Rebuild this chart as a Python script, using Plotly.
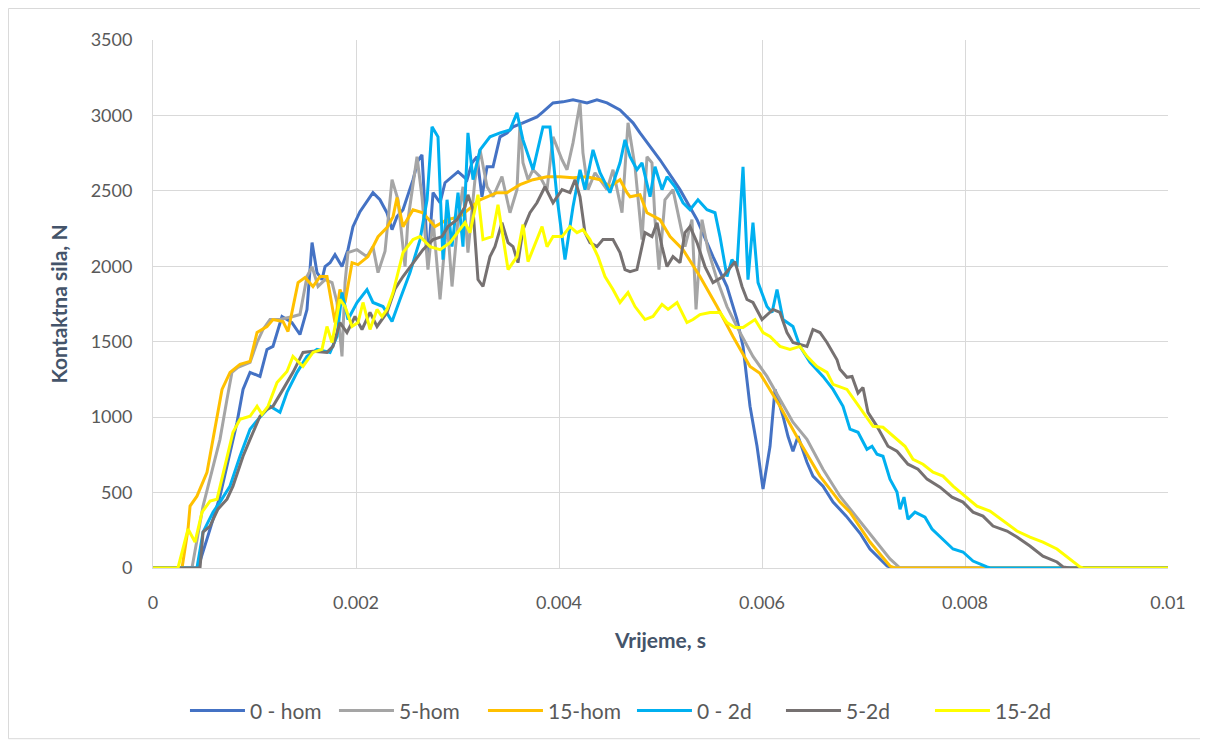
import plotly.graph_objects as go

# time in ms (converted to s below), force in N
t_0hom = [0, 0.443, 0.562, 0.660, 0.828, 0.887, 0.956, 1.054, 1.123, 1.182, 1.271, 1.369, 1.448, 1.517, 1.567, 1.616, 1.665, 1.695, 1.744, 1.793, 1.862, 1.921, 1.970, 2.039, 2.167, 2.236, 2.305, 2.355, 2.404, 2.463, 2.562, 2.611, 2.650, 2.709, 2.759, 2.828, 2.877, 3.005, 3.094, 3.143, 3.192, 3.241, 3.291, 3.350, 3.389, 3.419, 3.488, 3.547, 3.645, 3.783, 3.842, 3.941, 4.039, 4.138, 4.276, 4.374, 4.473, 4.601, 4.729, 4.798, 4.995, 5.192, 5.360, 5.517, 5.655, 5.754, 5.813, 5.882, 5.951, 6.010, 6.079, 6.128, 6.207, 6.256, 6.305, 6.355, 6.443, 6.502, 6.601, 6.700, 6.830, 6.966, 7.064, 7.232, 7.291, 10]
f_0hom = [0, 0, 258, 476, 966, 1184, 1297, 1270, 1449, 1469, 1667, 1627, 1548, 1713, 2157, 1958, 1912, 1998, 2024, 2077, 1998, 2110, 2263, 2362, 2488, 2441, 2355, 2243, 2329, 2375, 2574, 2700, 2739, 2024, 2488, 2421, 2554, 2627, 2574, 2686, 2726, 2461, 2660, 2660, 2772, 2858, 2884, 2924, 2951, 2990, 3023, 3083, 3090, 3103, 3083, 3103, 3083, 3037, 2951, 2884, 2706, 2508, 2309, 2064, 1866, 1647, 1469, 1072, 807, 523, 807, 1184, 1006, 873, 774, 873, 701, 609, 543, 437, 344, 230, 126, 13, 0, 0]

t_5hom = [0, 0.384, 0.493, 0.562, 0.660, 0.729, 0.778, 0.837, 0.956, 1.025, 1.084, 1.153, 1.251, 1.379, 1.448, 1.517, 1.567, 1.626, 1.695, 1.764, 1.813, 1.862, 1.892, 1.921, 2.010, 2.108, 2.167, 2.217, 2.286, 2.355, 2.414, 2.483, 2.512, 2.601, 2.650, 2.709, 2.759, 2.828, 2.897, 2.946, 3.005, 3.054, 3.103, 3.172, 3.222, 3.291, 3.350, 3.438, 3.517, 3.586, 3.616, 3.645, 3.695, 3.744, 3.813, 3.882, 3.941, 4.030, 4.079, 4.138, 4.207, 4.236, 4.286, 4.355, 4.404, 4.473, 4.532, 4.621, 4.680, 4.749, 4.818, 4.867, 4.916, 4.946, 4.985, 5.044, 5.123, 5.172, 5.241, 5.310, 5.350, 5.409, 5.468, 5.557, 5.655, 5.783, 5.911, 6.049, 6.177, 6.305, 6.443, 6.601, 6.768, 6.936, 7.133, 7.261, 7.360, 10]
f_5hom = [0, 0, 410, 589, 853, 1118, 1297, 1330, 1363, 1495, 1581, 1647, 1647, 1667, 1680, 1932, 1998, 1866, 1912, 1892, 1760, 1403, 1892, 2091, 2110, 2064, 2130, 1958, 2100, 2574, 2441, 1998, 2309, 2726, 2461, 1978, 2309, 1780, 2309, 1866, 2309, 2527, 2091, 2574, 2772, 2527, 2461, 2594, 2355, 2508, 2951, 2686, 2574, 2640, 2594, 2508, 2858, 2706, 2640, 2818, 3083, 2752, 2508, 2620, 2574, 2508, 2640, 2355, 2951, 2660, 2177, 2726, 2686, 2309, 1978, 2441, 2508, 2355, 2130, 2309, 1714, 2309, 2110, 1912, 1733, 1561, 1403, 1270, 1118, 966, 853, 655, 476, 334, 172, 60, 0, 0]

t_15hom = [0, 0.286, 0.345, 0.365, 0.433, 0.532, 0.591, 0.680, 0.759, 0.857, 0.956, 1.025, 1.123, 1.182, 1.281, 1.330, 1.429, 1.498, 1.576, 1.645, 1.714, 1.793, 1.842, 1.892, 1.961, 2.020, 2.118, 2.217, 2.305, 2.365, 2.404, 2.463, 2.562, 2.660, 2.778, 2.897, 3.025, 3.222, 3.389, 3.488, 3.616, 3.744, 3.882, 4.010, 4.138, 4.276, 4.404, 4.502, 4.601, 4.670, 4.700, 4.798, 4.867, 4.995, 5.094, 5.222, 5.389, 5.557, 5.714, 5.882, 5.980, 6.177, 6.374, 6.571, 6.768, 6.867, 7.064, 7.261, 7.310, 10]
f_15hom = [0, 0, 258, 410, 476, 635, 853, 1184, 1297, 1350, 1370, 1561, 1600, 1647, 1634, 1568, 1892, 1925, 1866, 1932, 1932, 1627, 1846, 1760, 2024, 2011, 2064, 2196, 2256, 2329, 2455, 2263, 2375, 2355, 2263, 2309, 2329, 2441, 2488, 2488, 2541, 2574, 2594, 2594, 2587, 2594, 2574, 2527, 2574, 2488, 2461, 2474, 2355, 2309, 2197, 2110, 1932, 1733, 1535, 1336, 1290, 1072, 834, 609, 437, 370, 172, 13, 0, 0]

t_02d = [0, 0.433, 0.493, 0.591, 0.660, 0.759, 0.857, 0.956, 1.054, 1.153, 1.251, 1.320, 1.419, 1.517, 1.616, 1.744, 1.813, 1.862, 1.921, 2.010, 2.108, 2.167, 2.266, 2.355, 2.433, 2.532, 2.631, 2.700, 2.749, 2.808, 2.857, 2.897, 2.946, 3.005, 3.054, 3.103, 3.153, 3.222, 3.320, 3.419, 3.517, 3.586, 3.645, 3.744, 3.842, 3.911, 3.980, 4.059, 4.138, 4.207, 4.256, 4.335, 4.404, 4.502, 4.601, 4.650, 4.700, 4.768, 4.818, 4.897, 4.946, 5.015, 5.064, 5.143, 5.222, 5.291, 5.369, 5.458, 5.537, 5.586, 5.655, 5.704, 5.754, 5.813, 5.862, 5.911, 5.961, 6.049, 6.099, 6.148, 6.207, 6.305, 6.374, 6.473, 6.601, 6.700, 6.798, 6.867, 6.946, 7.034, 7.084, 7.133, 7.192, 7.261, 7.330, 7.360, 7.399, 7.438, 7.507, 7.606, 7.675, 7.783, 7.882, 7.980, 8.079, 8.217, 8.246, 10]
f_02d = [0, 0, 238, 370, 437, 543, 741, 920, 1000, 1072, 1032, 1164, 1297, 1403, 1449, 1429, 1535, 1826, 1647, 1760, 1846, 1760, 1733, 1634, 1780, 1958, 2177, 2441, 2924, 2858, 2044, 2441, 2130, 2488, 2130, 2884, 2574, 2772, 2858, 2884, 2904, 3017, 2838, 2640, 2924, 2924, 2461, 2044, 2395, 2640, 2508, 2772, 2620, 2488, 2686, 2838, 2726, 2640, 2686, 2461, 2660, 2508, 2594, 2527, 2421, 2375, 2441, 2375, 2355, 2197, 1932, 2044, 1998, 2660, 1912, 2289, 1892, 1733, 1694, 1846, 1647, 1601, 1469, 1363, 1270, 1184, 1072, 920, 900, 787, 807, 754, 741, 589, 503, 390, 470, 324, 370, 337, 258, 192, 126, 106, 46, 7, 0, 0]

t_52d = [0, 0.463, 0.493, 0.562, 0.640, 0.729, 0.788, 0.887, 0.956, 1.054, 1.123, 1.182, 1.281, 1.379, 1.478, 1.576, 1.714, 1.773, 1.842, 1.911, 1.990, 2.059, 2.138, 2.207, 2.305, 2.384, 2.463, 2.562, 2.660, 2.759, 2.847, 2.906, 2.995, 3.074, 3.103, 3.153, 3.202, 3.251, 3.320, 3.369, 3.438, 3.498, 3.547, 3.596, 3.645, 3.714, 3.783, 3.862, 3.941, 4.030, 4.108, 4.158, 4.207, 4.256, 4.305, 4.374, 4.433, 4.532, 4.601, 4.650, 4.700, 4.768, 4.847, 4.916, 4.966, 5.015, 5.064, 5.123, 5.192, 5.241, 5.291, 5.360, 5.438, 5.517, 5.616, 5.734, 5.803, 5.852, 5.911, 6.000, 6.108, 6.177, 6.246, 6.305, 6.443, 6.502, 6.571, 6.640, 6.739, 6.768, 6.837, 6.887, 6.946, 6.995, 7.044, 7.133, 7.241, 7.330, 7.438, 7.537, 7.626, 7.754, 7.872, 7.980, 8.079, 8.177, 8.276, 8.414, 8.512, 8.640, 8.768, 8.906, 8.966, 9.034, 10]
f_52d = [0, 0, 238, 278, 390, 456, 543, 741, 853, 1006, 1052, 1072, 1184, 1297, 1429, 1436, 1429, 1469, 1627, 1561, 1667, 1581, 1694, 1601, 1694, 1850, 1932, 2024, 2110, 2177, 2197, 2263, 2309, 2395, 2474, 2375, 1912, 1866, 2064, 2130, 2289, 2157, 2130, 2024, 2243, 2355, 2421, 2527, 2421, 2508, 2488, 2574, 2461, 2223, 2157, 2130, 2177, 2177, 2091, 1978, 1965, 1978, 2223, 2197, 2289, 2130, 1998, 2064, 2024, 2223, 2263, 2157, 1998, 1892, 1932, 2031, 1866, 1780, 1760, 1647, 1714, 1694, 1561, 1495, 1469, 1581, 1561, 1495, 1380, 1317, 1264, 1270, 1160, 1197, 1032, 939, 807, 774, 688, 655, 589, 536, 470, 437, 370, 344, 278, 245, 205, 146, 79, 40, 7, 0, 0]

t_152d = [0, 0.246, 0.345, 0.414, 0.483, 0.562, 0.631, 0.729, 0.788, 0.857, 0.956, 1.025, 1.074, 1.133, 1.222, 1.320, 1.379, 1.478, 1.576, 1.665, 1.714, 1.764, 1.842, 1.892, 1.961, 2.020, 2.069, 2.138, 2.207, 2.256, 2.305, 2.365, 2.463, 2.562, 2.631, 2.729, 2.828, 2.926, 3.025, 3.074, 3.123, 3.202, 3.251, 3.340, 3.399, 3.498, 3.586, 3.645, 3.695, 3.783, 3.833, 3.882, 3.941, 4.030, 4.108, 4.177, 4.236, 4.305, 4.384, 4.453, 4.532, 4.601, 4.680, 4.749, 4.847, 4.926, 5.015, 5.074, 5.163, 5.261, 5.320, 5.389, 5.488, 5.586, 5.655, 5.734, 5.813, 5.931, 6.010, 6.079, 6.177, 6.276, 6.374, 6.443, 6.542, 6.640, 6.700, 6.837, 6.995, 7.094, 7.192, 7.291, 7.409, 7.488, 7.586, 7.685, 7.783, 7.882, 7.980, 8.118, 8.246, 8.374, 8.512, 8.640, 8.768, 8.906, 9.034, 9.133, 9.163, 10]
f_152d = [0, 0, 258, 172, 370, 443, 456, 721, 900, 986, 1006, 1072, 1019, 1072, 1230, 1303, 1403, 1336, 1429, 1449, 1601, 1495, 1780, 1733, 1601, 1627, 1760, 1581, 1714, 1667, 1714, 1826, 2091, 2177, 2197, 2130, 2110, 2157, 2243, 2289, 2223, 2474, 2177, 2197, 2408, 1978, 2064, 2276, 2031, 2177, 2263, 2130, 2197, 2197, 2263, 2223, 2243, 2177, 2064, 1932, 1846, 1760, 1826, 1733, 1647, 1667, 1747, 1714, 1760, 1627, 1647, 1680, 1694, 1694, 1627, 1594, 1594, 1647, 1561, 1535, 1469, 1449, 1469, 1403, 1336, 1297, 1217, 1184, 1032, 939, 933, 873, 807, 721, 688, 635, 609, 543, 490, 410, 377, 311, 245, 205, 172, 126, 60, 7, 0, 0]

series_names = ["0 - hom", "5-hom", "15-hom", "0 - 2d", "5-2d", "15-2d"]
series_t = [t_0hom, t_5hom, t_15hom, t_02d, t_52d, t_152d]
series_f = [f_0hom, f_5hom, f_15hom, f_02d, f_52d, f_152d]
colors = ["#4472C4", "#A5A5A5", "#FFC000", "#00B0F0", "#767171", "#FFFF00"]

x_tickvals = [0, 0.002, 0.004, 0.006, 0.008, 0.01]
x_ticktext = ["0", "0.002", "0.004", "0.006", "0.008", "0.01"]

fig = go.Figure()
for name, ts, fs, c in zip(series_names, series_t, series_f, colors):
    fig.add_trace(go.Scatter(
        x=[v / 1000 for v in ts], y=fs, mode="lines", name=name,
        line=dict(color=c, width=3)))

font_family = "Lato, 'Open Sans', sans-serif"
fig.update_layout(
    width=1200, height=734,
    margin=dict(l=145, r=40, t=32, b=173),
    paper_bgcolor="white", plot_bgcolor="white",
    font=dict(family=font_family, size=17, color="#595959"),
    showlegend=True,
    legend=dict(orientation="h", x=0.0315, xanchor="left", y=-0.268, yanchor="middle",
                font=dict(size=21, color="#595959"), itemwidth=55,
                entrywidth=79, entrywidthmode="pixels",
                traceorder="normal", tracegroupgap=0),
    xaxis=dict(range=[0, 0.01], tickvals=x_tickvals, ticktext=x_ticktext,
               showgrid=True, gridcolor="#D9D9D9", gridwidth=1,
               showline=True, linecolor="#D9D9D9", linewidth=1,
               zeroline=False, ticks="", ticklabelstandoff=18,
               tickfont=dict(size=18, color="#595959"),
               title=dict(text="<b>Vrijeme, s</b>", font=dict(size=21, color="#44546A"), standoff=21)),
    yaxis=dict(range=[0, 3500], dtick=500, tick0=0,
               showgrid=True, gridcolor="#D9D9D9", gridwidth=1,
               showline=True, linecolor="#D9D9D9", linewidth=1,
               zeroline=False, ticks="", ticklabelstandoff=16,
               tickfont=dict(size=18, color="#595959"),
               title=dict(text="<b>Kontaktna sila, N</b>", font=dict(size=21, color="#44546A"), standoff=17)),
)
fig.add_shape(type="rect", xref="paper", yref="paper",
              x0=-0.1424, x1=1.0374, y0=-0.3233, y1=1.0596,
              line=dict(color="#D9D9D9", width=1), fillcolor="rgba(0,0,0,0)", layer="below")

fig.write_html("out.html")
